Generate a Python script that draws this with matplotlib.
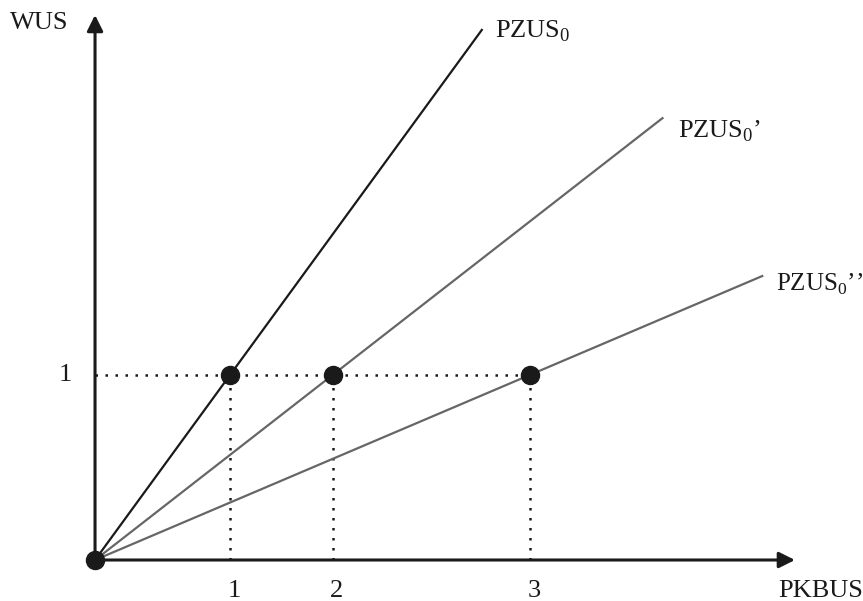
import matplotlib
matplotlib.use('Agg')
import numpy as np
from matplotlib import pyplot as plt

plt.rcParams['font.family'] = ['Liberation Serif', 'DejaVu Serif']
plt.rcParams['mathtext.fontset'] = 'custom'
plt.rcParams['mathtext.rm'] = 'Liberation Serif'

# positions of the three points on the PKBUS axis (drawn scale is not linear)
x_pos = [1.0, 1.76, 3.22]
x_labels = ['1', '2', '3']
y_level = 1.0
line_end_x = [2.87, 4.21, 4.95]
line_names = [r'PZUS$_\mathrm{0}$', r'PZUS$_\mathrm{0}$’', r'PZUS$_\mathrm{0}$’’']
line_colors = ['#1a1a1a', '#666666', '#666666']
label_pos = [(2.96, 2.86), (4.32, 2.32), (5.045, 1.49)]
label_sizes = [19, 19, 18]

fig = plt.figure(figsize=(8.63, 6.01), dpi=100)
ax = fig.add_axes([0, 0, 1, 1])
ax.set_xlim(-0.704, 5.689)
ax.set_ylim(-0.2216, 3.027)
ax.axis('off')

fs = 19

# axes with arrows
ax.annotate('', xy=(5.185, 0), xytext=(0, 0),
            arrowprops=dict(arrowstyle='-|>', lw=2.2, color='#1a1a1a', mutation_scale=24, shrinkA=0, shrinkB=0))
ax.annotate('', xy=(0, 2.946), xytext=(0, 0),
            arrowprops=dict(arrowstyle='-|>', lw=2.2, color='#1a1a1a', mutation_scale=24, shrinkA=0, shrinkB=0))

# rays from origin
for xp, xe, c in zip(x_pos, line_end_x, line_colors):
    ax.plot([0, xe], [0, xe * y_level / xp], color=c, lw=1.6, solid_capstyle='butt', zorder=2)

# dotted guides
ax.plot([0, max(x_pos)], [y_level, y_level], color='#1a1a1a', lw=1.8, ls=(0, (1, 3)), zorder=1)
for xp in x_pos:
    ax.plot([xp, xp], [0, y_level], color='#1a1a1a', lw=1.8, ls=(0, (1, 3)), zorder=1)

# points
ax.plot(x_pos, [y_level] * len(x_pos), 'o', color='#1a1a1a', ms=13, zorder=3)
ax.plot([0], [0], 'o', color='#1a1a1a', ms=13, zorder=3)

# labels
for (lx, ly), name, s in zip(label_pos, line_names, label_sizes):
    ax.text(lx, ly, name, fontsize=s, ha='left', va='center', color='#1a1a1a')
for xp, lab in zip(x_pos, x_labels):
    ax.text(xp + 0.03, -0.165, lab, fontsize=fs, ha='center', va='center', color='#1a1a1a')
ax.text(-0.222, y_level, '1', fontsize=fs, ha='center', va='center', color='#1a1a1a')
ax.text(-0.63, 2.905, 'WUS', fontsize=fs, ha='left', va='center', color='#1a1a1a')
ax.text(5.06, -0.165, 'PKBUS', fontsize=fs, ha='left', va='center', color='#1a1a1a')

plt.savefig('out.png', dpi=100)
